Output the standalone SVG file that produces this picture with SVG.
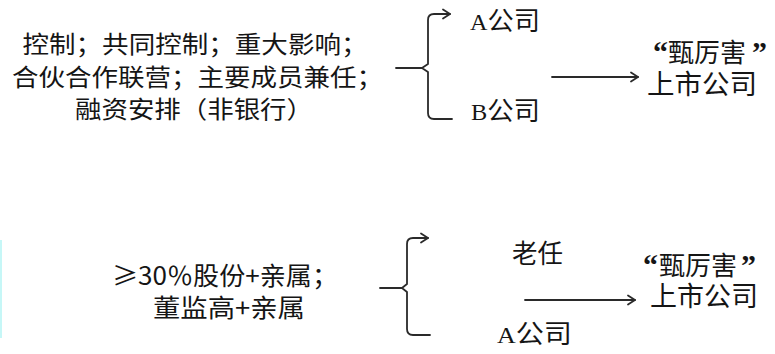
<svg xmlns="http://www.w3.org/2000/svg" width="775" height="354" viewBox="0 0 775 354">
<style>
.t{font-family:"Noto Sans CJK SC","Noto Sans",sans-serif;fill:#151515;}
.lat{font-family:"Liberation Serif",serif;}
.q{font-family:"Liberation Serif",serif;font-size:30px;font-weight:bold;}
.c{fill:none;stroke:#2a2a2a;stroke-width:1.8;stroke-linecap:round;stroke-linejoin:round;}
</style>
<defs>
<marker id="ah" markerUnits="userSpaceOnUse" markerWidth="12" markerHeight="12" refX="9" refY="6" orient="auto">
<path d="M2,1.5 L9,6 L2,10.5" fill="none" stroke="#2a2a2a" stroke-width="1.8" stroke-linecap="round" stroke-linejoin="round"/>
</marker>
</defs>
<rect width="775" height="354" fill="#ffffff"/>
<rect x="0" y="240" width="2" height="98" fill="#c6f7f7"/>

<g id="relations-top">
<text class="t" font-size="24" text-anchor="middle" x="195" y="53" textLength="345" lengthAdjust="spacingAndGlyphs">控制；共同控制；重大影响；</text>
<text class="t" font-size="24" text-anchor="middle" x="197.5" y="85.5" textLength="371" lengthAdjust="spacingAndGlyphs">合伙合作联营；主要成员兼任；</text>
<text class="t" font-size="24" text-anchor="middle" x="194" y="117.5" textLength="238" lengthAdjust="spacingAndGlyphs">融资安排（非银行）</text>
</g>
<g id="company-a-top">
<text class="t" font-size="26" x="470" y="30" textLength="70" lengthAdjust="spacingAndGlyphs"><tspan class="lat" font-size="24">A</tspan>公司</text>
</g>
<g id="company-b-top">
<text class="t" font-size="26" x="471" y="120" textLength="69" lengthAdjust="spacingAndGlyphs"><tspan class="lat" font-size="24">B</tspan>公司</text>
</g>
<g id="listed-top">
<text class="t" font-size="26" y="62"><tspan class="q" x="653">“</tspan><tspan x="668">甄厉害</tspan><tspan class="q" x="752">”</tspan></text>
<text class="t" font-size="27" x="647" y="94" textLength="110" lengthAdjust="spacingAndGlyphs">上市公司</text>
</g>

<g id="relations-bottom">
<text class="t" font-size="25" text-anchor="middle" x="225" y="285" textLength="226" lengthAdjust="spacingAndGlyphs">≥30％股份+亲属；</text>
<text class="t" font-size="25" text-anchor="middle" x="229" y="317" textLength="152" lengthAdjust="spacingAndGlyphs">董监高+亲属</text>
</g>
<g id="laoren">
<text class="t" font-size="26" x="512" y="262.5" textLength="51" lengthAdjust="spacingAndGlyphs">老任</text>
</g>
<g id="company-a-bottom">
<text class="t" font-size="26" x="497" y="343" textLength="75" lengthAdjust="spacingAndGlyphs"><tspan class="lat" font-size="24">A</tspan>公司</text>
</g>
<g id="listed-bottom">
<text class="t" font-size="26" y="275"><tspan class="q" x="643">“</tspan><tspan x="659">甄厉害</tspan><tspan class="q" x="741">”</tspan></text>
<text class="t" font-size="27" x="650" y="306" textLength="108" lengthAdjust="spacingAndGlyphs">上市公司</text>
</g>

<g id="connectors">
<path class="c" d="M396,68 L422,68"/>
<path class="c" d="M452,119 L434,119 Q428,119 428,113 L428,72 L422,68 L428,64 L428,20 Q428,14 434,14 L450,14" marker-end="url(#ah)"/>
<path class="c" d="M552,77 L638,77" marker-end="url(#ah)"/>
<path class="c" d="M380,288 L402,288"/>
<path class="c" d="M430,335 L413,335 Q407,335 407,329 L407,292 L402,288 L407,284 L407,244 Q407,238 413,238 L428,238" marker-end="url(#ah)"/>
<path class="c" d="M525,300 L635,300" marker-end="url(#ah)"/>
</g>
</svg>
